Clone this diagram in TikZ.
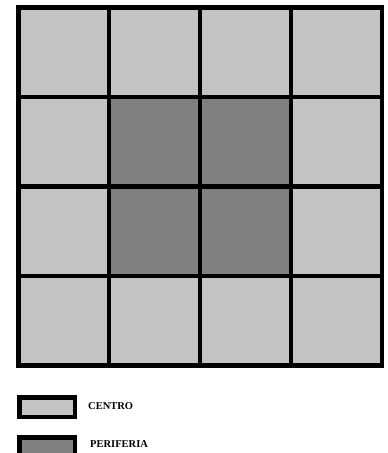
\documentclass[tikz,border=0pt]{standalone}
\usepackage{fontspec}
\setmainfont{Liberation Serif}
\usetikzlibrary{positioning}
\definecolor{LightGray}{HTML}{C3C3C3}
\definecolor{DarkGray}{HTML}{808080}

\begin{document}
\begin{tikzpicture}[x=1pt,y=-1pt,
  cell/.style={draw=black,line width=4.5pt,minimum width=90.9pt,minimum height=89.6pt,inner sep=0pt,outer sep=0pt},
  keybox/.style={draw=black,line width=4.5pt,minimum width=55.5pt,minimum height=19.5pt,inner sep=0pt},
  keytext/.style={font=\fontsize{10.5}{12}\selectfont\bfseries,anchor=west,inner sep=0pt}]
\useasboundingbox (0,0) rectangle (388,453);
% grid, light cells first
\foreach \i in {0,...,3}{
  \foreach \j in {0,...,3}{
    \node[cell,fill=LightGray] (c\i\j) at ({63.7+90.9*\i},{52.05+89.6*\j}) {};
  }
}
% inner cells
\foreach \i/\j in {1/1,2/1,1/2,2/2}{
  \node[cell,fill=DarkGray] (d\i\j) at ({63.7+90.9*\i},{52.05+89.6*\j}) {};
}
% legend
\node[keybox,fill=LightGray] (centro) at (47,407) {};
\node[keytext] (centrolbl) at (88,406) {CENTRO};
\node[keybox,fill=DarkGray] (periferia) at (47,447) {};
\node[keytext] (periferialbl) at (90,444) {PERIFERIA};
\end{tikzpicture}
\end{document}
